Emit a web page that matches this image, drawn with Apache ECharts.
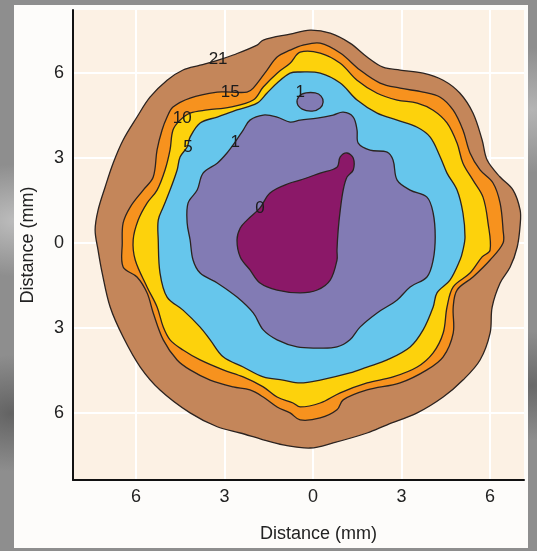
<!DOCTYPE html>
<html>
<head>
<meta charset="utf-8">
<script src="https://cdn.jsdelivr.net/npm/echarts@6/dist/echarts.min.js"></script>
<style>
  html, body { margin:0; padding:0; }
  body {
    width:537px; height:551px; overflow:hidden; position:relative;
    background:
      radial-gradient(ellipse at 3% 40%, rgba(200,200,200,0.8), rgba(200,200,200,0) 12%),
      radial-gradient(ellipse at 2% 75%, rgba(70,70,70,0.6), rgba(70,70,70,0) 10%),
      radial-gradient(ellipse at 99% 20%, rgba(190,190,190,0.8), rgba(190,190,190,0) 10%),
      radial-gradient(ellipse at 99% 70%, rgba(80,80,80,0.6), rgba(80,80,80,0) 10%),
      #8e8e8e;
  }
  #panel { position:absolute; left:14px; top:5px; width:514px; height:543px; background:#fdfcfa; }
  #chart { position:absolute; left:0; top:0; width:537px; height:551px; }
</style>
</head>
<body>
<div id="panel"></div>
<div id="chart"></div>
<script>
// Tick values (mm), labels shown as absolute distance
const xTicks = [-6, -3, 0, 3, 6];
const yTicks = [-6, -3, 0, 3, 6];

// Contour polygons, [x mm, y mm]
const contour21 = [[-0.10,7.52],[0.58,7.41],[1.25,7.06],[1.83,6.57],[2.37,6.21],[2.95,6.11],[3.73,6.00],[4.41,5.75],[4.98,5.29],[5.42,4.59],[5.73,3.64],[5.90,2.93],[6.34,2.33],[6.78,1.87],[7.02,1.16],[7.02,0.64],[6.92,-0.14],[6.68,-0.85],[6.34,-1.41],[6.07,-2.26],[6.00,-3.18],[5.66,-4.13],[5.08,-4.84],[4.41,-5.44],[3.53,-6.00],[2.51,-6.42],[1.83,-6.71],[0.68,-7.06],[-0.10,-7.24],[-1.02,-7.13],[-1.69,-6.95],[-2.47,-6.71],[-3.25,-6.49],[-4.17,-6.00],[-5.19,-5.19],[-5.86,-4.38],[-6.44,-3.32],[-6.88,-2.26],[-7.15,-1.06],[-7.29,-0.25],[-7.39,0.46],[-7.29,1.16],[-7.05,1.98],[-6.78,2.82],[-6.44,3.64],[-5.97,4.45],[-5.53,5.15],[-4.95,5.75],[-4.41,6.11],[-3.83,6.28],[-3.22,6.46],[-2.71,6.64],[-1.90,6.99],[-1.69,7.17],[-0.78,7.38]];
const contour15 = [[-0.34,6.99],[0.24,7.06],[0.92,6.71],[1.59,6.11],[2.27,5.65],[2.95,5.47],[3.73,5.33],[4.31,5.15],[4.75,4.69],[5.08,3.99],[5.32,3.18],[5.66,2.58],[6.10,2.12],[6.34,1.41],[6.44,0.46],[6.44,0.00],[6.00,-0.60],[5.42,-1.20],[4.88,-1.66],[4.75,-2.26],[4.75,-3.18],[4.41,-4.02],[3.86,-4.48],[2.95,-4.94],[1.83,-5.19],[1.02,-5.54],[0.81,-5.89],[0.24,-6.18],[-0.44,-6.25],[-0.78,-6.00],[-1.22,-5.79],[-1.69,-5.44],[-2.14,-5.19],[-2.71,-5.08],[-3.49,-4.84],[-4.17,-4.48],[-4.61,-4.13],[-5.08,-3.42],[-5.42,-2.47],[-5.63,-1.76],[-5.97,-1.20],[-6.44,-0.85],[-6.47,0.00],[-6.44,0.71],[-6.20,1.27],[-5.76,1.87],[-5.42,2.33],[-5.29,3.29],[-5.12,3.99],[-4.95,4.45],[-4.75,4.80],[-4.17,5.12],[-3.25,5.33],[-2.81,5.33],[-2.24,5.33],[-2.03,5.47],[-1.56,6.11],[-1.22,6.57],[-0.78,6.81]];
const contour10 = [[-0.44,6.74],[0.24,6.71],[0.92,6.35],[1.49,5.75],[2.17,5.29],[2.85,5.05],[3.53,4.94],[4.07,4.69],[4.54,4.24],[4.88,3.53],[5.08,2.82],[5.42,2.22],[5.76,1.62],[5.93,0.71],[6.00,-0.25],[5.73,-0.49],[5.32,-1.06],[4.75,-1.55],[4.54,-2.26],[4.41,-3.18],[4.07,-3.88],[3.53,-4.38],[2.71,-4.73],[1.83,-4.94],[0.92,-5.29],[0.24,-5.65],[-0.44,-5.79],[-0.68,-5.65],[-1.22,-5.44],[-1.69,-5.08],[-2.37,-4.73],[-3.05,-4.48],[-3.83,-4.13],[-4.41,-3.78],[-4.85,-3.42],[-5.08,-2.97],[-5.29,-2.26],[-5.63,-1.55],[-6.03,-0.60],[-6.10,0.11],[-5.93,0.81],[-5.63,1.41],[-5.29,1.87],[-5.02,2.58],[-4.85,3.29],[-4.75,3.99],[-4.51,4.34],[-4.17,4.59],[-3.59,4.70],[-2.81,4.80],[-2.03,5.05],[-1.69,5.51],[-1.22,6.00],[-0.78,6.35]];
const contour5 = [[-0.44,6.04],[0.24,6.00],[0.92,5.65],[1.49,5.05],[2.17,4.59],[2.85,4.34],[3.53,4.09],[3.97,3.74],[4.31,3.04],[4.54,2.47],[4.88,1.87],[5.08,1.06],[5.15,0.21],[5.08,-0.25],[4.98,-0.60],[4.64,-1.31],[4.20,-1.76],[4.07,-2.26],[3.73,-3.07],[3.29,-3.67],[2.51,-4.13],[1.83,-4.38],[1.25,-4.59],[0.24,-4.84],[-0.44,-4.94],[-1.02,-4.84],[-1.69,-4.73],[-2.37,-4.38],[-3.05,-4.02],[-3.49,-3.42],[-3.83,-2.97],[-4.41,-2.37],[-4.95,-1.91],[-5.19,-1.06],[-5.25,0.11],[-5.25,0.81],[-5.08,1.27],[-4.85,1.87],[-4.61,2.58],[-4.51,3.04],[-4.27,3.39],[-4.17,3.74],[-3.83,4.24],[-3.25,4.45],[-2.58,4.70],[-1.90,4.94],[-1.56,5.30],[-1.22,5.65],[-0.78,6.00]];
const contour1 = [[-0.44,4.34],[0.14,4.41],[0.68,4.52],[1.02,4.62],[1.36,4.45],[1.49,3.99],[1.53,3.53],[1.93,3.28],[2.51,3.21],[2.71,2.93],[2.85,2.22],[3.29,1.87],[3.86,1.62],[4.07,1.06],[4.14,0.21],[4.07,-0.60],[3.86,-1.20],[3.29,-1.55],[2.85,-2.01],[2.17,-2.47],[1.59,-2.97],[1.25,-3.42],[0.81,-3.67],[0.14,-3.71],[-0.54,-3.67],[-1.22,-3.42],[-1.69,-3.07],[-2.03,-2.47],[-2.58,-1.91],[-3.25,-1.41],[-3.83,-1.06],[-4.07,-0.60],[-4.17,0.11],[-4.27,0.71],[-4.24,1.41],[-3.93,1.87],[-3.73,2.47],[-3.25,2.82],[-2.92,3.18],[-2.64,3.57],[-2.37,3.99],[-2.14,4.34],[-1.69,4.52],[-1.22,4.45],[-0.78,4.27]];
const contour1Small = [[0.34,4.98],[0.24,4.77],[-0.03,4.66],[-0.37,4.73],[-0.54,4.94],[-0.47,5.19],[-0.24,5.30],[0.07,5.30],[0.27,5.19]];
const contour0 = [[-0.44,2.22],[0.24,2.47],[0.81,2.68],[0.92,3.04],[1.15,3.18],[1.36,3.00],[1.36,2.58],[1.15,2.33],[1.02,1.87],[0.92,1.16],[0.85,0.46],[0.81,-0.25],[0.81,-0.60],[0.58,-1.31],[0.14,-1.66],[-0.44,-1.76],[-1.22,-1.66],[-1.80,-1.41],[-2.14,-0.95],[-2.47,-0.49],[-2.58,0.11],[-2.47,0.53],[-2.24,0.81],[-1.80,1.24],[-1.46,1.77],[-0.78,2.12]];

// Contour labels: [x mm, y mm, text]
const contourLabels = [[-3.22,6.50,'21'],[-2.81,5.33,'15'],[-4.44,4.42,'10'],[-4.24,3.39,'5'],[-2.64,3.57,'1'],[-0.44,5.33,'1'],[-1.80,1.24,'0']];

const polys = [contour21, contour15, contour10, contour5, contour1, contour1Small, contour0];
const fills = ['#c4865a', '#f7921e', '#fdd20c', '#66c6ec', '#827bb4', '#827bb4', '#8b1868'];

const chart = echarts.init(document.getElementById('chart'), null, {renderer:'canvas'});
const fontFam = '"Liberation Sans", Arial, Helvetica, sans-serif';

chart.setOption({
  backgroundColor: 'transparent',
  animation: false,
  grid: { left:73, top:10, right:13, bottom:71, show:true, backgroundColor:'#fcf1e4', borderWidth:0 },
  xAxis: {
    type:'value', min:-8.14, max:7.15,
    axisLine:{ show:true, onZero:false, lineStyle:{ color:'#111', width:2 } },
    axisTick:{ show:false, customValues:xTicks },
    axisLabel:{ customValues:xTicks, formatter:v=>String(Math.abs(v)), color:'#222', fontSize:18, margin:8, fontFamily:fontFam },
    splitLine:{ show:true, lineStyle:{ color:'#ffffff', width:2 } },
    name:'Distance (mm)', nameLocation:'middle', nameGap:45,
    nameTextStyle:{ color:'#222', fontSize:18, fontFamily:fontFam, padding:[0,0,0,40] }
  },
  yAxis: {
    type:'value', min:-8.37, max:8.23,
    axisLine:{ show:true, onZero:false, lineStyle:{ color:'#111', width:2 } },
    axisTick:{ show:false, customValues:yTicks },
    axisLabel:{ customValues:yTicks, formatter:v=>String(Math.abs(v)), color:'#222', fontSize:18, margin:9, fontFamily:fontFam },
    splitLine:{ show:true, lineStyle:{ color:'#ffffff', width:2 } },
    name:'Distance (mm)', nameLocation:'middle', nameGap:36,
    nameTextStyle:{ color:'#222', fontSize:18, fontFamily:fontFam }
  },
  series: [
    {
      type:'custom',
      coordinateSystem:'cartesian2d',
      clip:true,
      data: polys.map((p, i) => [i, 0]),
      renderItem: function(params, api) {
        const pts = polys[params.dataIndex].map(p => api.coord(p));
        return {
          type:'polygon',
          shape:{ points:pts, smooth:0.35 },
          style:{ fill:fills[params.dataIndex], stroke:'#2b2320', lineWidth:1.3 }
        };
      },
      silent:true, z:2
    },
    {
      type:'custom',
      coordinateSystem:'cartesian2d',
      data: contourLabels,
      renderItem: function(params, api) {
        const c = api.coord([api.value(0), api.value(1)]);
        return {
          type:'text',
          x:c[0], y:c[1],
          style:{ text:contourLabels[params.dataIndex][2], fill:'#1c1c1c', fontSize:17, fontFamily:fontFam, align:'center', verticalAlign:'middle' }
        };
      },
      silent:true, z:3
    }
  ]
});
</script>
</body>
</html>
